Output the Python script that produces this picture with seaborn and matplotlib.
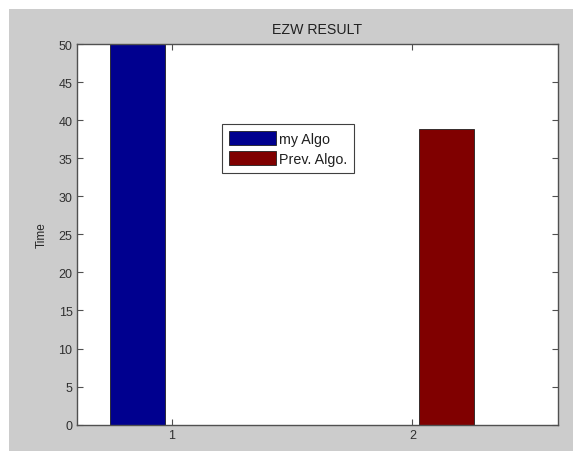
import matplotlib
matplotlib.use("Agg")
import matplotlib.pyplot as plt
import pandas as pd
import seaborn as sns
from matplotlib.patches import Rectangle

# data (the blue bar runs past the top of the axes)
groups = [1, 2]
my_algo = [52.0, 0.0]
prev_algo = [0.0, 38.8]
series_names = ["my Algo", "Prev. Algo."]

df = pd.DataFrame({
    "group": groups * 2,
    "time": my_algo + prev_algo,
    "algo": [series_names[0]] * 2 + [series_names[1]] * 2,
})

sns.set_style("white")
plt.rcParams['font.family'] = ['Liberation Sans', 'DejaVu Sans']
plt.rcParams.update({'font.size': 8.5,
                     'xtick.labelsize': 9,
                     'ytick.labelsize': 9,
                     'text.color': '#202020',
                     'xtick.color': '#303030',
                     'ytick.color': '#303030'})

fig = plt.figure(figsize=(5.73, 4.52), dpi=100, facecolor='white')
# matlab style gray window behind the axes
fig.patches.append(Rectangle((9 / 573, 0), 1, 1 - 10 / 452, transform=fig.transFigure,
                             facecolor='#cccccc', edgecolor='none', zorder=-10))

ax = fig.add_axes([76.7 / 573, 26.3 / 452, 481 / 573, 380.7 / 452])
ax.set_facecolor('white')

sns.barplot(data=df, x="group", y="time", hue="algo", native_scale=True,
            palette=['#00008f', '#800000'], saturation=1, width=0.571, gap=0.2,
            edgecolor='#202020', linewidth=0.6, ax=ax)

ax.set_xlim(0.605, 2.604)
ax.set_ylim(0, 50)
ax.set_xticks([1, 2])
ax.set_xticklabels(['1', '2'])
ax.set_yticks(range(0, 51, 5))
ax.tick_params(direction='in', length=4, width=0.8, top=True, right=True,
               left=True, bottom=True, colors='#505050', labelcolor='#303030', pad=3)
for s in ax.spines.values():
    s.set_color('#505050')
    s.set_linewidth(1.0)
    s.set_visible(True)

ax.set_xlabel('')
ax.set_ylabel('Time', labelpad=8)
ax.set_title('EZW RESULT', pad=8)

leg = ax.legend(loc='upper left', bbox_to_anchor=((222 - 76.7) / 481, (425.7 - 125) / 380.7),
                frameon=True, fancybox=False, edgecolor='#404040', framealpha=1,
                handlelength=3.3, handleheight=1.15, handletextpad=0.15,
                borderpad=0.5, labelspacing=0.35, borderaxespad=0,
                prop={'size': 10.3})
leg.get_frame().set_linewidth(0.8)

fig.savefig('out.png', dpi=100, facecolor=fig.get_facecolor())
